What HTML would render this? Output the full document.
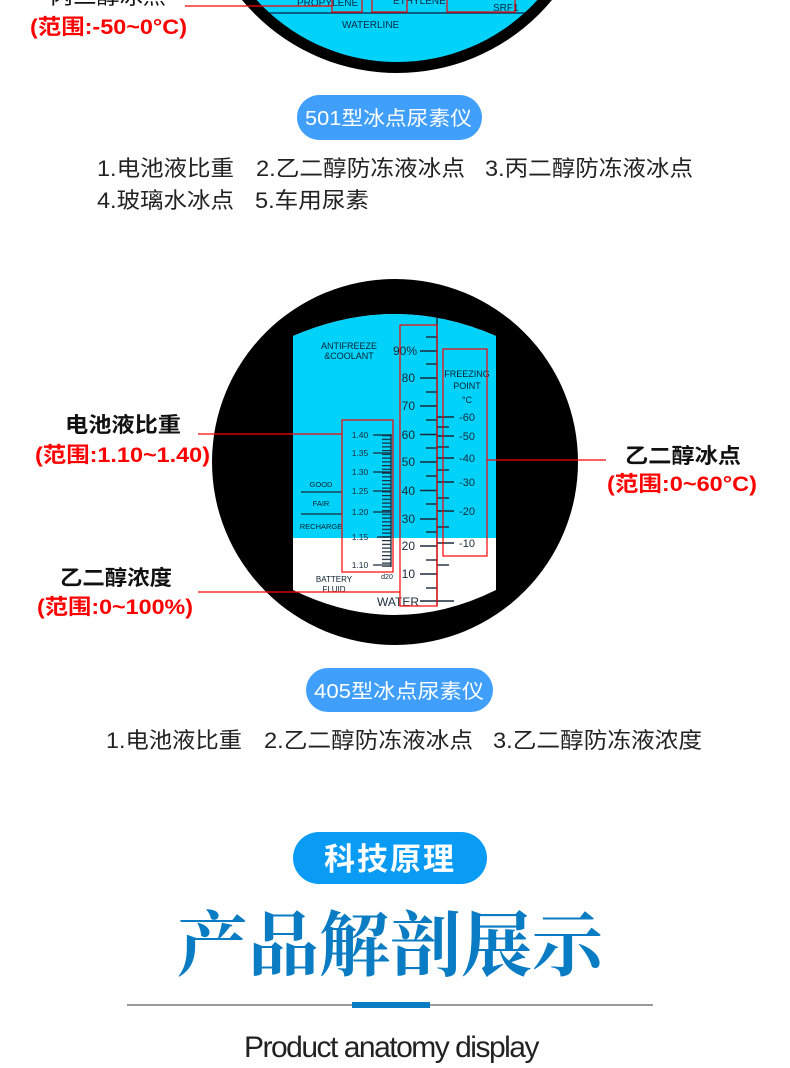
<!DOCTYPE html>
<html><head><meta charset="utf-8"><style>
html,body{margin:0;padding:0;background:#fff;}
svg{display:block;}
.cj{font-family:"Liberation Sans","Noto Sans CJK SC",sans-serif;}
</style></head><body>
<svg width="790" height="1068" viewBox="0 0 790 1068" xmlns="http://www.w3.org/2000/svg" class="cj">
<defs>
<pattern id="bt" x="0" y="435" width="10" height="3.75" patternUnits="userSpaceOnUse">
<rect x="0" y="0" width="10" height="1.2" fill="#1a2a3a"/>
</pattern>
<clipPath id="tc"><circle cx="397" cy="-128" r="190"/></clipPath>
</defs>

<!-- top circle -->
<circle cx="397" cy="-128" r="201" fill="#000"/>
<circle cx="397" cy="-128" r="190" fill="#00d2fa"/>
<line x1="200" y1="13" x2="600" y2="13" stroke="#0c3a60" stroke-width="1.5" clip-path="url(#tc)"/>
<text x="297" y="6" font-size="10" fill="#0c2a45">PROPYLENE</text>
<text x="393" y="4" font-size="10" fill="#0c2a45">ETHYLENE</text>
<text x="493" y="11" font-size="10" fill="#0c2a45">SRF1</text>
<text x="342" y="28" font-size="10" fill="#0c2a45">WATERLINE</text>
<g stroke="#f00" stroke-width="1.2" fill="none">
<rect x="332" y="-5" width="30" height="17"/>
<rect x="372" y="-5" width="35" height="17"/>
<rect x="447" y="-5" width="68" height="17"/>
<line x1="185" y1="6" x2="332" y2="6"/>
</g>
<text x="50" y="4" font-size="21" fill="#111" textLength="116" lengthAdjust="spacingAndGlyphs">丙二醇冰点</text>
<text x="30" y="34" font-size="21" fill="#f00" font-weight="bold" textLength="157" lengthAdjust="spacingAndGlyphs">(范围:-50~0°C)</text>

<!-- 501 badge -->
<rect x="297" y="95" width="185" height="45" rx="22.5" fill="#409ffa"/>
<text x="305" y="125" font-size="20" fill="#fff" textLength="167" lengthAdjust="spacingAndGlyphs">501型冰点尿素仪</text>
<g font-size="22" fill="#222" lengthAdjust="spacingAndGlyphs">
<text x="97" y="176" textLength="137" lengthAdjust="spacingAndGlyphs">1.电池液比重</text>
<text x="256" y="176" textLength="209" lengthAdjust="spacingAndGlyphs">2.乙二醇防冻液冰点</text>
<text x="485" y="176" textLength="208" lengthAdjust="spacingAndGlyphs">3.丙二醇防冻液冰点</text>
<text x="97" y="208" textLength="137" lengthAdjust="spacingAndGlyphs">4.玻璃水冰点</text>
<text x="255" y="208" textLength="114" lengthAdjust="spacingAndGlyphs">5.车用尿素</text>
</g>

<!-- middle circle -->
<circle cx="395" cy="462" r="183" fill="#000"/>
<path d="M293 336 Q395 292 496 336 L496 590 Q395 640 293 590 Z" fill="#fff"/>
<path d="M293 336 Q395 292 496 336 L496 538 L293 538 Z" fill="#00d2fa"/>

<g fill="#0c2030" font-size="9">
<text x="349" y="349" text-anchor="middle">ANTIFREEZE</text>
<text x="349" y="359" text-anchor="middle">&amp;COOLANT</text>
<text x="321" y="487" text-anchor="middle" font-size="7.5">GOOD</text>
<text x="321" y="506" text-anchor="middle" font-size="7.5">FAIR</text>
<text x="321" y="529" text-anchor="middle" font-size="7.5">RECHARGE</text>
<text x="334" y="582" text-anchor="middle" font-size="8">BATTERY</text>
<text x="334" y="592" text-anchor="middle" font-size="8">FLUID</text>
<text x="387" y="579" text-anchor="middle" font-size="7">d20</text>
<text x="467" y="377" text-anchor="middle" font-size="9">FREEZING</text>
<text x="467" y="389" text-anchor="middle" font-size="9">POINT</text>
<text x="467" y="403" text-anchor="middle" font-size="9">°C</text>
</g>
<g stroke="#1a2a3a" stroke-width="1.3">
<line x1="301" y1="492" x2="342" y2="492"/>
<line x1="301" y1="514" x2="342" y2="514"/>
</g>

<!-- main scale -->
<g stroke="#1a2a3a" stroke-width="1.4">
<line x1="437" y1="318" x2="437" y2="606"/>
<line x1="420" y1="351" x2="437" y2="351"/><line x1="420" y1="378" x2="437" y2="378"/>
<line x1="420" y1="406" x2="437" y2="406"/><line x1="420" y1="434.5" x2="437" y2="434.5"/>
<line x1="420" y1="462" x2="437" y2="462"/><line x1="420" y1="490.5" x2="437" y2="490.5"/>
<line x1="420" y1="519" x2="437" y2="519"/><line x1="420" y1="546" x2="437" y2="546"/>
<line x1="420" y1="574" x2="437" y2="574"/><line x1="420" y1="601" x2="454" y2="601"/>
<line x1="426" y1="337" x2="437" y2="337"/><line x1="426" y1="364" x2="437" y2="364"/>
<line x1="426" y1="392" x2="437" y2="392"/><line x1="426" y1="420" x2="437" y2="420"/>
<line x1="426" y1="448" x2="437" y2="448"/><line x1="426" y1="476" x2="437" y2="476"/>
<line x1="426" y1="504" x2="437" y2="504"/><line x1="426" y1="532" x2="437" y2="532"/>
<line x1="426" y1="560" x2="437" y2="560"/><line x1="426" y1="588" x2="437" y2="588"/>
<line x1="437" y1="417" x2="454" y2="417"/><line x1="437" y1="436" x2="454" y2="436"/>
<line x1="437" y1="458" x2="454" y2="458"/><line x1="437" y1="482" x2="454" y2="482"/>
<line x1="437" y1="511" x2="454" y2="511"/><line x1="437" y1="543" x2="454" y2="543"/>
<line x1="437" y1="427" x2="449" y2="427"/><line x1="437" y1="447" x2="449" y2="447"/>
<line x1="437" y1="470" x2="449" y2="470"/><line x1="437" y1="498" x2="449" y2="498"/>
<line x1="437" y1="527" x2="449" y2="527"/><line x1="437" y1="565" x2="449" y2="565"/>
</g>
<g fill="#1a2a3a" font-size="12" text-anchor="end">
<text x="417" y="355">90%</text><text x="415" y="382">80</text><text x="415" y="410">70</text>
<text x="415" y="439">60</text><text x="415" y="466">50</text><text x="415" y="495">40</text>
<text x="415" y="523">30</text><text x="415" y="550">20</text><text x="415" y="578">10</text>
<text x="419" y="606">WATER</text>
</g>
<g fill="#1a2a3a" font-size="11" text-anchor="middle">
<text x="467" y="421">-60</text><text x="467" y="440">-50</text><text x="467" y="462">-40</text>
<text x="467" y="486">-30</text><text x="467" y="515">-20</text><text x="467" y="547">-10</text>
</g>

<!-- battery scale -->
<rect x="382" y="435" width="9" height="132" fill="url(#bt)"/>
<g stroke="#1a2a3a" stroke-width="1.3">
<line x1="391" y1="434" x2="391" y2="567"/>
<line x1="373" y1="435" x2="391" y2="435"/><line x1="373" y1="453" x2="391" y2="453"/>
<line x1="373" y1="472" x2="391" y2="472"/><line x1="373" y1="491" x2="391" y2="491"/>
<line x1="373" y1="512" x2="391" y2="512"/><line x1="377" y1="537" x2="391" y2="537"/>
<line x1="373" y1="565" x2="391" y2="565"/>
</g>
<g fill="#1a2a3a" font-size="8.5" text-anchor="middle">
<text x="360" y="438">1.40</text><text x="360" y="456">1.35</text><text x="360" y="475">1.30</text>
<text x="360" y="494">1.25</text><text x="360" y="515">1.20</text><text x="360" y="540">1.15</text>
<text x="360" y="568">1.10</text>
</g>

<!-- red boxes + lines -->
<g stroke="#f00" stroke-width="1.2" fill="none">
<rect x="342" y="420" width="51" height="152"/>
<rect x="400" y="325" width="37" height="281"/>
<rect x="443" y="349" width="44" height="207"/>
<line x1="198" y1="434" x2="342" y2="434"/>
<line x1="198" y1="592" x2="400" y2="592"/>
<line x1="487" y1="460" x2="606" y2="460"/>
</g>
<text x="65" y="432" font-size="21" fill="#111" font-weight="bold" textLength="116" lengthAdjust="spacingAndGlyphs">电池液比重</text>
<text x="35" y="462" font-size="21" fill="#f00" font-weight="bold" textLength="175" lengthAdjust="spacingAndGlyphs">(范围:1.10~1.40)</text>
<text x="60" y="585" font-size="21" fill="#111" font-weight="bold" textLength="112" lengthAdjust="spacingAndGlyphs">乙二醇浓度</text>
<text x="37" y="614" font-size="21" fill="#f00" font-weight="bold" textLength="156" lengthAdjust="spacingAndGlyphs">(范围:0~100%)</text>
<text x="625" y="463" font-size="21" fill="#111" font-weight="bold" textLength="116" lengthAdjust="spacingAndGlyphs">乙二醇冰点</text>
<text x="607" y="491" font-size="21" fill="#f00" font-weight="bold" textLength="150" lengthAdjust="spacingAndGlyphs">(范围:0~60°C)</text>

<!-- 405 badge -->
<rect x="306" y="668" width="187" height="44" rx="22" fill="#409ffa"/>
<text x="314" y="698" font-size="20" fill="#fff" textLength="170" lengthAdjust="spacingAndGlyphs">405型冰点尿素仪</text>
<g font-size="22" fill="#222">
<text x="106" y="748" textLength="136" lengthAdjust="spacingAndGlyphs">1.电池液比重</text>
<text x="264" y="748" textLength="209" lengthAdjust="spacingAndGlyphs">2.乙二醇防冻液冰点</text>
<text x="493" y="748" textLength="209" lengthAdjust="spacingAndGlyphs">3.乙二醇防冻液浓度</text>
</g>

<!-- bottom heading -->
<rect x="293" y="832" width="194" height="52" rx="26" fill="#0a9cf5"/>
<text x="390" y="870" font-size="31" fill="#fff" text-anchor="middle" font-weight="bold" letter-spacing="2">科技原理</text>
<text x="390" y="970" font-size="71" fill="#0a7cc3" text-anchor="middle" font-family="Liberation Serif,Noto Serif CJK SC,serif" font-weight="bold">产品解剖展示</text>
<line x1="127" y1="1005" x2="653" y2="1005" stroke="#333" stroke-width="1"/>
<rect x="352" y="1002" width="78" height="6" fill="#0a7cc3"/>
<text x="391" y="1057" font-size="30" fill="#222" text-anchor="middle" letter-spacing="-1.5">Product anatomy display</text>
</svg>
</body></html>
